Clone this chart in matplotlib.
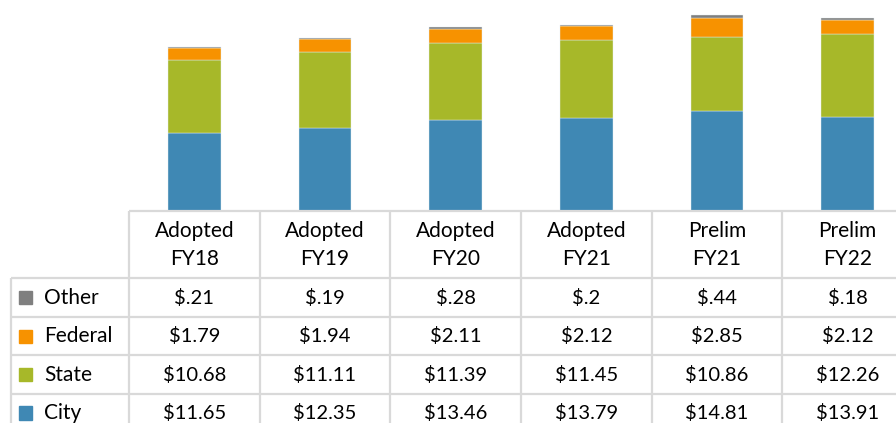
import matplotlib
matplotlib.use("Agg")
import matplotlib.pyplot as plt
import numpy as np

categories = ["Adopted\nFY18", "Adopted\nFY19", "Adopted\nFY20", "Adopted\nFY21", "Prelim\nFY21", "Prelim\nFY22"]
series_names = ["Other", "Federal", "State", "City"]
city = [11.65, 12.35, 13.46, 13.79, 14.81, 13.91]
state = [10.68, 11.11, 11.39, 11.45, 10.86, 12.26]
federal = [1.79, 1.94, 2.11, 2.12, 2.85, 2.12]
other = [0.21, 0.19, 0.28, 0.20, 0.44, 0.18]
labels_other = ["$.21", "$.19", "$.28", "$.2", "$.44", "$.18"]
labels_federal = ["$1.79", "$1.94", "$2.11", "$2.12", "$2.85", "$2.12"]
labels_state = ["$10.68", "$11.11", "$11.39", "$11.45", "$10.86", "$12.26"]
labels_city = ["$11.65", "$12.35", "$13.46", "$13.79", "$14.81", "$13.91"]

colors = {"City": "#3f88b4", "State": "#a7b829", "Federal": "#f79200", "Other": "#7f7f7f"}
grid_c = "#d9d9d9"
FONT = ["Lato", "DejaVu Sans"]
FS = 14.5

W, H = 896, 423
fig = plt.figure(figsize=(W / 100, H / 100), dpi=100)

left_px, right_px = 129, 913
axis_px = 212
ax = fig.add_axes([left_px / W, (H - axis_px) / H, (right_px - left_px) / W, axis_px / H])
x = np.arange(len(categories))
bottom = np.zeros(len(categories))
for name, vals in [("City", city), ("State", state), ("Federal", federal), ("Other", other)]:
    ax.bar(x, vals, width=0.405, bottom=bottom, color=colors[name],
           edgecolor="#e6eef2", linewidth=0.3, zorder=2)
    bottom += np.array(vals)
ax.set_xlim(-0.5, len(categories) - 0.5)
ax.set_ylim(0, axis_px / 6.80)
ax.axis("off")

# table axes
tx = fig.add_axes([left_px / W, 0, (right_px - left_px) / W, axis_px / H])
tx.set_xlim(-0.5, len(categories) - 0.5)
tx.set_ylim(H, axis_px)
tx.axis("off")

header_bottom = 279
row_h = 38.3
col_w_px = (right_px - left_px) / len(categories)
legend_left = -0.5 - 118 / col_w_px
n_rows = 4
row_edges = [header_bottom + i * row_h for i in range(n_rows + 2)]

lw = 1.6
kw = dict(color=grid_c, lw=lw, clip_on=False, solid_capstyle="butt")
# top axis line
tx.plot([-0.5, len(categories) - 0.5], [axis_px, axis_px], **kw)
# vertical lines
for k in range(len(categories) + 1):
    tx.plot([-0.5 + k, -0.5 + k], [axis_px, H + 10], **kw)
tx.plot([legend_left, legend_left], [header_bottom, H + 10], **kw)
# horizontal lines
for yv in row_edges:
    tx.plot([legend_left, len(categories) - 0.5], [yv, yv], **kw)

# header text
for i, c in enumerate(categories):
    tx.text(i, (axis_px + header_bottom) / 2 + 0.5, c, ha="center", va="center",
            fontsize=15, family=FONT, color="#000000", linespacing=1.5)

rows = [("Other", labels_other), ("Federal", labels_federal), ("State", labels_state), ("City", labels_city)]
for r, (name, labs) in enumerate(rows):
    yc = header_bottom + (r + 0.5) * row_h
    for i, lab in enumerate(labs):
        tx.text(i, yc, lab, ha="center", va="center", fontsize=FS, family=FONT, color="#000000")
    sq_x0 = legend_left + 8 / col_w_px
    sq = plt.Rectangle((sq_x0, yc - 6.5), 13 / col_w_px, 13, color=colors[name], clip_on=False)
    tx.add_patch(sq)
    tx.text(legend_left + 33 / col_w_px, yc, name, ha="left", va="center",
            fontsize=15, family=FONT, color="#000000")

fig.savefig("out.png", dpi=100)
